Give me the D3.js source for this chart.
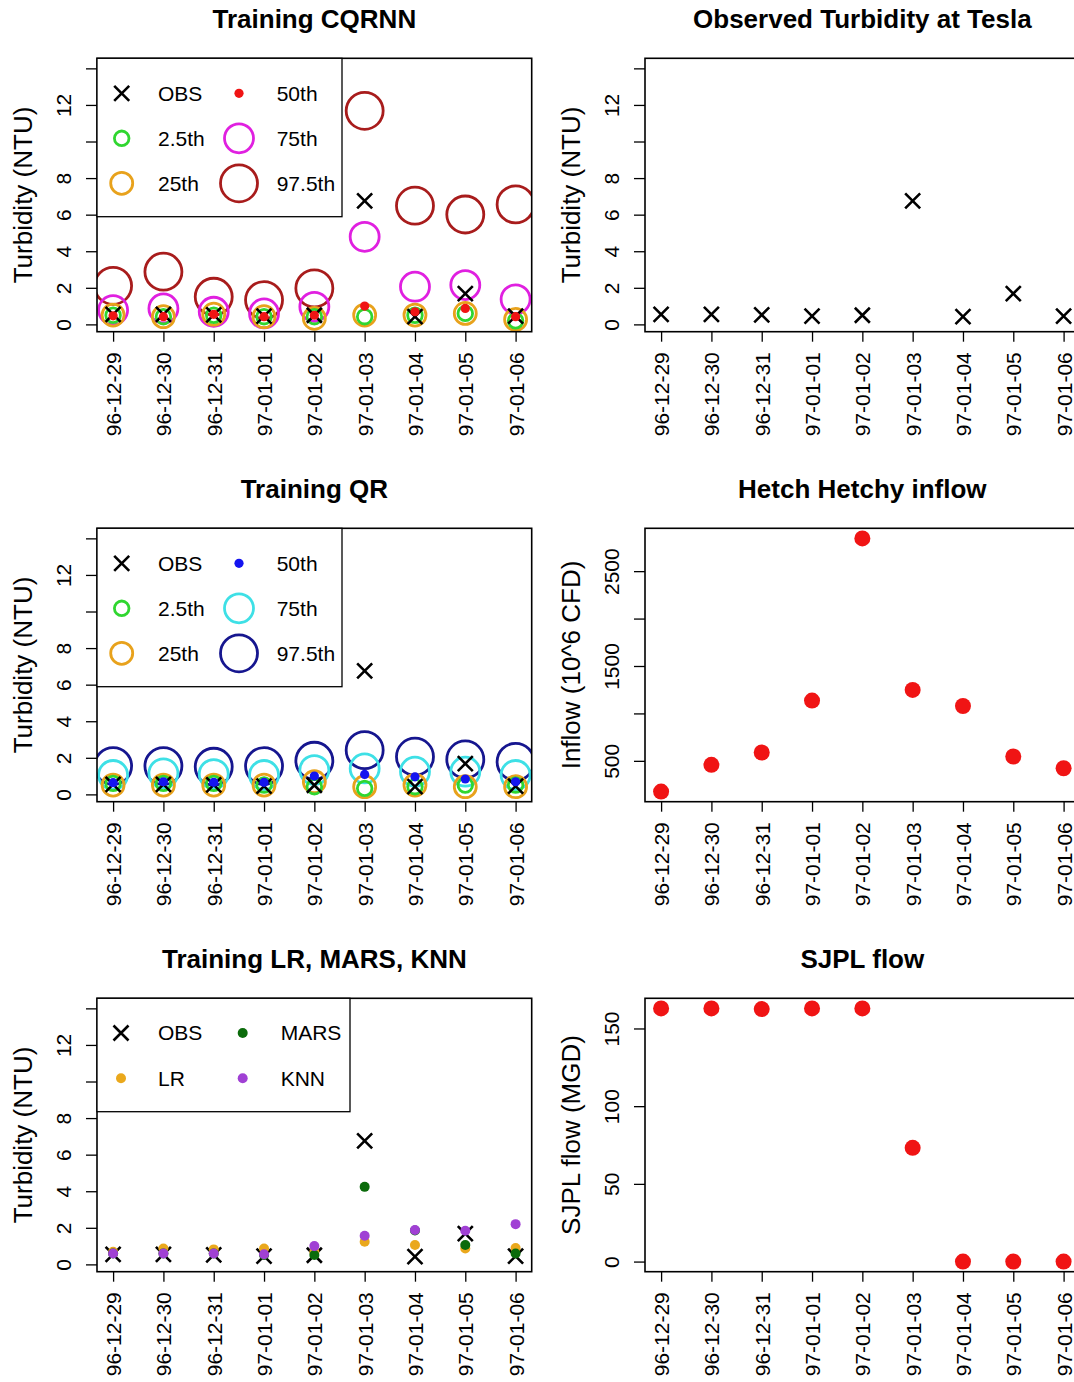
<!DOCTYPE html>
<html>
<head>
<meta charset="utf-8">
<script src="https://cdn.jsdelivr.net/npm/d3@7"></script>
<style>
  body { margin: 0; background: #fff; }
  svg { display: block; font-family: "Liberation Sans", Arial, sans-serif; }
</style>
</head>
<body>
<svg id="fig" width="1074" height="1382"></svg>
<script>
// ---- data ----
const dates = ["96-12-29", "96-12-30", "96-12-31", "97-01-01", "97-01-02",
               "97-01-03", "97-01-04", "97-01-05", "97-01-06"];

// observed turbidity at Tesla (NTU)
const obs = [0.55, 0.55, 0.52, 0.45, 0.5, 6.75, 0.42, 1.68, 0.45];

// CQRNN quantile predictions (NTU)
const cqrnnQ025 = [0.5, 0.42, 0.5, 0.42, 0.42, 0.42, 0.5, 0.6, 0.2];
const cqrnnQ25  = [0.51, 0.42, 0.56, 0.42, 0.33, 0.51, 0.51, 0.6, 0.27];
const cqrnnQ50  = [0.47, 0.42, 0.55, 0.42, 0.5, 1.0, 0.69, 0.87, 0.42];
const cqrnnQ75  = [0.78, 0.87, 0.69, 0.6, 0.96, 4.79, 2.06, 2.15, 1.37];
const cqrnnQ975 = [2.11, 2.88, 1.51, 1.33, 1.97, 11.68, 6.49, 6.01, 6.56];

// QR quantile predictions (NTU)
const qrQ025 = [0.6, 0.6, 0.6, 0.51, 0.42, 0.33, 0.42, 0.51, 0.51];
const qrQ25  = [0.51, 0.51, 0.51, 0.51, 0.69, 0.42, 0.51, 0.42, 0.42];
const qrQ50  = [0.64, 0.69, 0.66, 0.66, 1.0, 1.09, 0.96, 0.84, 0.69];
const qrQ75  = [1.06, 1.15, 1.11, 1.06, 1.33, 1.42, 1.24, 1.24, 1.06];
const qrQ975 = [1.55, 1.55, 1.51, 1.55, 1.84, 2.42, 2.06, 1.91, 1.78];

// point predictions (NTU)
const lrPred   = [0.69, 0.87, 0.82, 0.87, 0.69, 1.24, 1.06, 0.87, 0.9];
const marsPred = [0.6, 0.6, 0.6, 0.51, 0.51, 4.24, 1.85, 1.06, 0.6];
const knnPred  = [0.6, 0.6, 0.6, 0.55, 1.0, 1.57, 1.88, 1.84, 2.2];

// Hetch Hetchy inflow (10^6 CFD) and SJPL flow (MGD)
const inflow = [176, 458, 588, 1135, 2845, 1248, 1078, 546, 422];
const sjpl   = [162.9, 162.9, 162.5, 162.9, 162.9, 73.2, 0, 0, 0];

// axis ticks and which of them carry a label
const turbTicks = [0, 2, 4, 6, 8, 10, 12, 14];
const turbLabels = [0, 2, 4, 6, 8, 12];
const inflowTicks = [500, 1000, 1500, 2000, 2500];
const inflowLabels = [500, 1500, 2500];
const sjplTicks = [0, 50, 100, 150];
const sjplLabels = [0, 50, 100, 150];

// ---- colours ----
const C = {
  obs: "#000000",
  q025: "#30d630",
  q25: "#e8a21c",
  q50red: "#f01414",
  q75mag: "#e020e0",
  q975red: "#a81c1c",
  q50blue: "#1414f0",
  q75cyan: "#3ee0e6",
  q975navy: "#16168f",
  lr: "#eaa81c",
  mars: "#0b6b0b",
  knn: "#a040d4",
  flow: "#f01414"
};

// ---- layout ----
const svg = d3.select("#fig");
const BOX_W = 434.7, BOX_H = 273.4;
const COL_X = [97, 645];
const ROW_Y = [58.3, 528.3, 998.3];
const TICK_FONT = 21, LAB_FONT = 26, LEG_FONT = 21;

// R-style 4% padding of a data range
function rPad(values) {
  const [lo, hi] = d3.extent(values);
  const p = (hi - lo) * 0.04;
  return [lo - p, hi + p];
}

// ---- marker drawers ----
function cross(sel, color) {
  const s = 7.5;
  sel.append("path")
    .attr("d", `M${-s},${-s}L${s},${s}M${-s},${s}L${s},${-s}`)
    .attr("stroke", color).attr("stroke-width", 2.6).attr("fill", "none");
}
function ring(r, color) {
  return (sel) => sel.append("circle").attr("r", r)
    .attr("fill", "none").attr("stroke", color).attr("stroke-width", 2.8);
}
function dot(r, color) {
  return (sel) => sel.append("circle").attr("r", r).attr("fill", color);
}
const X = (sel) => cross(sel, C.obs);

let clipId = 0;
function panel(col, row, opt) {
  const g = svg.append("g").attr("transform", `translate(${COL_X[col]},${ROW_Y[row]})`);
  const x = d3.scalePoint().domain(dates).range([0, BOX_W]).padding(0.32);
  const y = d3.scaleLinear().domain(opt.yDomain).range([BOX_H, 0]);

  // title
  g.append("text")
    .attr("x", BOX_W / 2).attr("y", -30.8)
    .attr("text-anchor", "middle").attr("font-weight", "bold")
    .attr("font-size", LAB_FONT).attr("fill", "#000")
    .text(opt.title);

  // y-axis label
  g.append("text")
    .attr("transform", `translate(-65,${BOX_H / 2}) rotate(-90)`)
    .attr("text-anchor", "middle").attr("font-size", LAB_FONT).attr("fill", "#000")
    .text(opt.ylab);

  // y axis
  const ya = g.append("g")
    .call(d3.axisLeft(y).tickValues(opt.ticks).tickSize(11).tickPadding(0)
      .tickFormat(d => opt.labels.includes(d) ? String(d) : ""));
  ya.attr("font-family", null).attr("font-size", null);
  ya.select(".domain").remove();
  ya.selectAll(".tick line").attr("stroke", "#000").attr("stroke-width", 1.3);
  ya.selectAll(".tick text")
    .attr("x", null).attr("dy", null)
    .attr("transform", "translate(-26,0) rotate(-90)")
    .attr("text-anchor", "middle").attr("font-size", TICK_FONT).attr("fill", "#000");

  // x axis
  const xa = g.append("g").attr("transform", `translate(0,${BOX_H})`)
    .call(d3.axisBottom(x).tickSize(10).tickPadding(0));
  xa.attr("font-family", null).attr("font-size", null);
  xa.select(".domain").remove();
  xa.selectAll(".tick line").attr("stroke", "#000").attr("stroke-width", 1.3);
  xa.selectAll(".tick text")
    .attr("y", null).attr("dy", null)
    .attr("transform", "translate(7.5,20.5) rotate(-90)")
    .attr("text-anchor", "end").attr("font-size", TICK_FONT).attr("fill", "#000");

  // plot region with clipping
  const id = "clip" + (clipId++);
  g.append("clipPath").attr("id", id)
    .append("rect").attr("width", BOX_W).attr("height", BOX_H);
  const plot = g.append("g").attr("clip-path", `url(#${id})`);

  // series in drawing order
  opt.series.forEach(s => {
    plot.append("g").selectAll("g")
      .data(s.values)
      .join("g")
      .attr("transform", (d, i) => `translate(${x(dates[i])},${y(d)})`)
      .each(function () { s.mark(d3.select(this)); });
  });

  // frame
  g.append("rect").attr("width", BOX_W).attr("height", BOX_H)
    .attr("fill", "none").attr("stroke", "#000").attr("stroke-width", 1.6);

  // legend
  if (opt.legend) {
    const L = opt.legend;
    const lg = g.append("g");
    lg.append("rect").attr("width", L.w).attr("height", L.h)
      .attr("fill", "#fff").attr("stroke", "#000").attr("stroke-width", 1.3);
    L.items.forEach((it, k) => {
      const c = Math.floor(k / L.rows.length), r = k % L.rows.length;
      const cy = L.rows[r];
      const m = lg.append("g").attr("transform", `translate(${L.symX[c]},${cy})`);
      it.mark(m);
      lg.append("text")
        .attr("x", L.textX[c]).attr("y", cy + 7.4)
        .attr("font-size", LEG_FONT).attr("fill", "#000")
        .text(it.label);
    });
  }
  return g;
}

const turbDomain = [-0.4, 14.55];

// Training CQRNN
panel(0, 0, {
  title: "Training CQRNN", ylab: "Turbidity (NTU)",
  yDomain: turbDomain, ticks: turbTicks, labels: turbLabels,
  series: [
    { values: cqrnnQ975, mark: ring(18.5, C.q975red) },
    { values: cqrnnQ75, mark: ring(14.5, C.q75mag) },
    { values: cqrnnQ25, mark: ring(11, C.q25) },
    { values: cqrnnQ025, mark: ring(7.3, C.q025) },
    { values: obs, mark: X },
    { values: cqrnnQ50, mark: dot(4.6, C.q50red) }
  ],
  legend: {
    w: 245, h: 158.4, rows: [35, 80, 125], symX: [24.7, 142], textX: [61, 179.7],
    items: [
      { label: "OBS", mark: X },
      { label: "2.5th", mark: ring(7.3, C.q025) },
      { label: "25th", mark: ring(11, C.q25) },
      { label: "50th", mark: dot(4.6, C.q50red) },
      { label: "75th", mark: ring(14.5, C.q75mag) },
      { label: "97.5th", mark: ring(18.5, C.q975red) }
    ]
  }
});

// Observed turbidity
panel(1, 0, {
  title: "Observed Turbidity at Tesla", ylab: "Turbidity (NTU)",
  yDomain: turbDomain, ticks: turbTicks, labels: turbLabels,
  series: [{ values: obs, mark: X }]
});

// Training QR
panel(0, 1, {
  title: "Training QR", ylab: "Turbidity (NTU)",
  yDomain: turbDomain, ticks: turbTicks, labels: turbLabels,
  series: [
    { values: qrQ975, mark: ring(18.5, C.q975navy) },
    { values: qrQ75, mark: ring(14.5, C.q75cyan) },
    { values: qrQ25, mark: ring(11, C.q25) },
    { values: qrQ025, mark: ring(7.3, C.q025) },
    { values: obs, mark: X },
    { values: qrQ50, mark: dot(4.6, C.q50blue) }
  ],
  legend: {
    w: 245, h: 158.4, rows: [35, 80, 125], symX: [24.7, 142], textX: [61, 179.7],
    items: [
      { label: "OBS", mark: X },
      { label: "2.5th", mark: ring(7.3, C.q025) },
      { label: "25th", mark: ring(11, C.q25) },
      { label: "50th", mark: dot(4.6, C.q50blue) },
      { label: "75th", mark: ring(14.5, C.q75cyan) },
      { label: "97.5th", mark: ring(18.5, C.q975navy) }
    ]
  }
});

// Hetch Hetchy inflow
panel(1, 1, {
  title: "Hetch Hetchy inflow", ylab: "Inflow (10^6 CFD)",
  yDomain: rPad(inflow), ticks: inflowTicks, labels: inflowLabels,
  series: [{ values: inflow, mark: dot(8, C.flow) }]
});

// Training LR, MARS, KNN
panel(0, 2, {
  title: "Training LR, MARS, KNN", ylab: "Turbidity (NTU)",
  yDomain: turbDomain, ticks: turbTicks, labels: turbLabels,
  series: [
    { values: obs, mark: X },
    { values: lrPred, mark: dot(5, C.lr) },
    { values: marsPred, mark: dot(5, C.mars) },
    { values: knnPred, mark: dot(5, C.knn) }
  ],
  legend: {
    w: 253, h: 113.4, rows: [34.7, 80], symX: [24, 145.7], textX: [61, 183.7],
    items: [
      { label: "OBS", mark: X },
      { label: "LR", mark: dot(5, C.lr) },
      { label: "MARS", mark: dot(5, C.mars) },
      { label: "KNN", mark: dot(5, C.knn) }
    ]
  }
});

// SJPL flow
panel(1, 2, {
  title: "SJPL flow", ylab: "SJPL flow (MGD)",
  yDomain: rPad(sjpl), ticks: sjplTicks, labels: sjplLabels,
  series: [{ values: sjpl, mark: dot(8, C.flow) }]
});
</script>
</body>
</html>
